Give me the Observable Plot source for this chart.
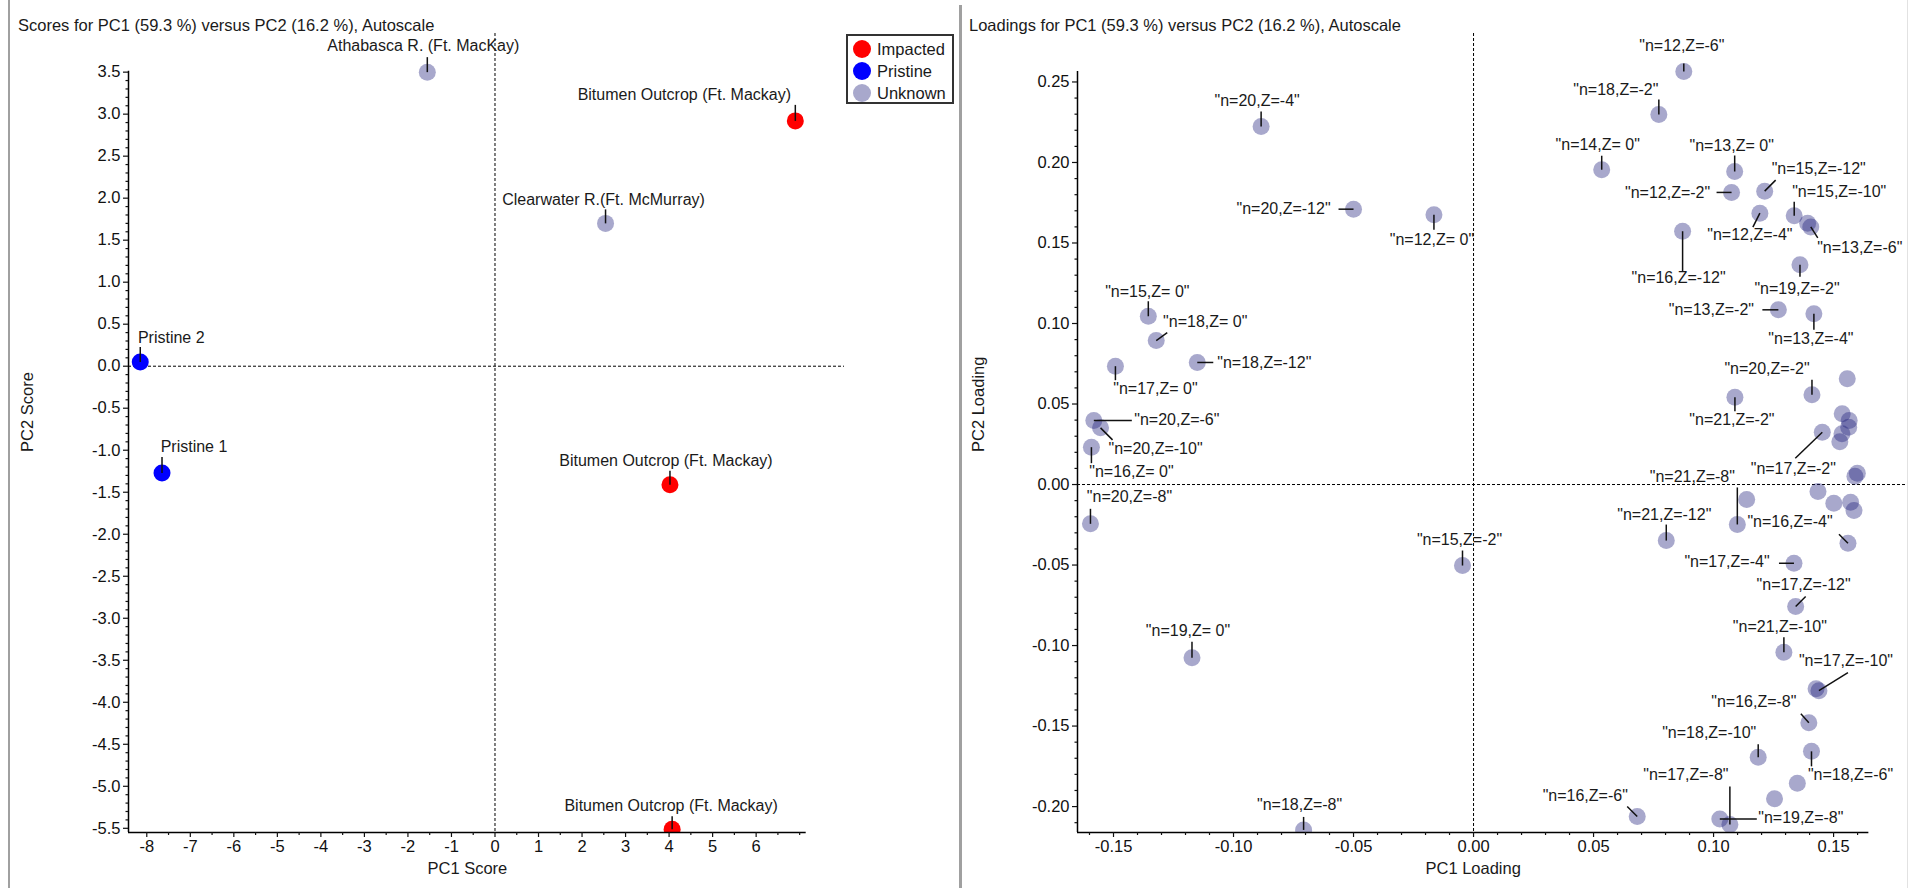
<!DOCTYPE html>
<html><head><meta charset="utf-8">
<script src="https://cdn.jsdelivr.net/npm/d3@7"></script>
<script src="https://cdn.jsdelivr.net/npm/@observablehq/plot@0.6"></script>
<style>
html,body{margin:0;padding:0;background:#fff;}
#wrap{position:relative;width:1916px;height:888px;overflow:hidden;font-family:"Liberation Sans",Arial,sans-serif;color:#1a1a1a;}
.panel{position:absolute;top:0;}
.title{position:absolute;top:15px;font-size:16.5px;line-height:20px;white-space:nowrap;}
.vline{position:absolute;top:0;bottom:0;}
#legend{position:absolute;left:846px;top:34px;width:104px;height:66px;border:2px solid #333;background:#fff;}
.lrow{position:absolute;left:0;height:22px;line-height:22px;font-size:16.5px;white-space:nowrap;}
.lsw{position:absolute;left:5px;top:2px;width:18px;height:18px;border-radius:50%;}
.ltx{position:absolute;left:29px;top:0;}
</style></head><body><div id="wrap"></div>
<script>
// ---------------- DATA ----------------
const classNames = ["Impacted", "Pristine", "Unknown"];

const scoreNames = ["Athabasca R. (Ft. MacKay)", "Bitumen Outcrop (Ft. Mackay)", "Clearwater R.(Ft. McMurray)",
  "Pristine 2", "Pristine 1", "Bitumen Outcrop (Ft. Mackay)", "Bitumen Outcrop (Ft. Mackay)"];
const scoreClasses = ["Unknown", "Impacted", "Unknown", "Pristine", "Pristine", "Impacted", "Impacted"];
const pc1Scores = [-1.555, 6.90, 2.54, -8.15, -7.65, 4.02, 4.07];
const pc2Scores = [3.50, 2.92, 1.70, 0.05, -1.27, -1.41, -5.51];

const loadingNames = [
  "\"n=12,Z=-6\"", "\"n=18,Z=-2\"", "\"n=13,Z= 0\"", "\"n=12,Z=-2\"", "\"n=15,Z=-12\"", "\"n=12,Z=-4\"",
  "\"n=15,Z=-10\"", "\"n=13,Z=-6\"", "\"n=16,Z=-12\"", "\"n=19,Z=-2\"", "\"n=13,Z=-2\"", "\"n=13,Z=-4\"",
  "\"n=20,Z=-2\"", "\"n=21,Z=-2\"", "\"n=17,Z=-2\"", "\"n=21,Z=-8\"", "\"n=21,Z=-12\"", "\"n=16,Z=-4\"",
  "\"n=17,Z=-4\"", "\"n=17,Z=-12\"", "\"n=21,Z=-10\"", "\"n=17,Z=-10\"", "\"n=16,Z=-8\"", "\"n=18,Z=-10\"",
  "\"n=18,Z=-6\"", "\"n=17,Z=-8\"", "\"n=19,Z=-8\"", "\"n=16,Z=-6\"", "\"n=15,Z= 0\"", "\"n=18,Z= 0\"",
  "\"n=17,Z= 0\"", "\"n=18,Z=-12\"", "\"n=20,Z=-6\"", "\"n=20,Z=-10\"", "\"n=16,Z= 0\"", "\"n=20,Z=-8\"",
  "\"n=20,Z=-4\"", "\"n=14,Z= 0\"", "\"n=20,Z=-12\"", "\"n=12,Z= 0\"", "\"n=15,Z=-2\"", "\"n=19,Z= 0\"",
  "\"n=18,Z=-8\"",
  "", "", "", "", "", "", "", "", "", "", "", "", "", "", "", "", ""];
const pc1Loadings = [
  0.0876, 0.0772, 0.1088, 0.1075, 0.1213, 0.1193,
  0.1336, 0.1405, 0.0871, 0.1360, 0.1270, 0.1418,
  0.1410, 0.1089, 0.1453, 0.1099, 0.0803, 0.1560,
  0.1335, 0.1342, 0.1293, 0.1439, 0.1397, 0.1186,
  0.1408, 0.1068, 0.1026, 0.0682, -0.1355, -0.1322,
  -0.1492, -0.1151, -0.1582, -0.1554, -0.1592, -0.1596,
  -0.0885, 0.0534, -0.0500, -0.0165, -0.0046, -0.1173,
  -0.0708,
  0.1392, 0.1557, 0.1536, 0.1565, 0.1563, 0.1535, 0.1526, 0.1599, 0.1589,
  0.1138, 0.1435, 0.1501, 0.1571, 0.1585, 0.1427, 0.1349, 0.1254];
const pc2Loadings = [
  0.2565, 0.2298, 0.1944, 0.1814, 0.1822, 0.1685,
  0.1669, 0.1600, 0.1573, 0.1365, 0.1085, 0.1060,
  0.0557, 0.0542, 0.0325, -0.0248, -0.0348, -0.0365,
  -0.0489, -0.0758, -0.1042, -0.1280, -0.1480, -0.1694,
  -0.1657, -0.2112, -0.2077, -0.2062, 0.1045, 0.0894,
  0.0735, 0.0758, 0.0398, 0.0352, 0.0232, -0.0244,
  0.2224, 0.1955, 0.1710, 0.1675, -0.0503, -0.1076,
  -0.2145,
  0.1622, 0.0657, 0.0439, 0.0398, 0.0356, 0.0315, 0.0265, 0.0070, 0.0052,
  -0.0093, -0.0043, -0.0116, -0.0110, -0.0161, -0.1268, -0.1855, -0.1952];

// tick values
const scoreXMajor = d3.range(-8, 7);
const scoreXMinor = d3.range(-15, 15).filter(i => i % 2 !== 0).map(i => i / 2).concat([7]);
const scoreYMajor = d3.range(-11, 8).map(i => i / 2);
const scoreYMinor = d3.range(-55, 36).filter(i => i % 5 !== 0).map(i => i / 10);
const loadXMajor = d3.range(-3, 4).map(i => i * 5 / 100);
const loadXMinor = d3.range(-16, 17).filter(i => i % 5 !== 0).map(i => i / 100);
const loadYMajor = d3.range(-4, 6).map(i => i * 5 / 100);
const loadYMinor = d3.range(-21, 26).filter(i => i % 5 !== 0).map(i => i / 100);

// ---------------- LAYOUT / STYLE ----------------
const classColors = ["#ff0000", "#0000ff", "#a8a8cc"];
const FONT = "'Liberation Sans', Arial, sans-serif";

// label placement in px: [textCenterDx, textCenterDy, leaderEndDx, leaderEndDy]
const scoreLabelPlace = [
  [-4, -26, 0, -15], [-111, -26, 0, -16], [-2, -24, 0, -14], [31, -24, 0, -15],
  [32, -26, 0, -16], [-4, -24, 0, -14], [-1, -23, 0, -13]];
const loadingLabelPlace = [
  [-2, -26, 0, -8], [-43, -25, 0, -15], [-3, -26, 0, -16], [-64, 0, -15, 0], [54, -22, 11, -11], [-10, 22, -7, 14],
  [45, -24, 0, -14], [49, 21, 7, 11], [-4, 47, 0, 40], [-3, 24, 0, 12], [-67, 0, -16, 0], [-3, 25, 0, 16],
  [-45, -26, 0, -15], [-3, 23, 0, 14], [-29, 37, -27, 26], [-45, -48, 0, -37], [-2, -26, 0, -16], [-58, -21, -9, -9],
  [-67, -1, -15, 0], [8, -22, 10, -10], [-4, -25, 0, -15], [27, -30, 29, -18], [-55, -21, -8, -9], [-49, -24, 0, -13],
  [39, 24, 0, 15], [-44, -50, 0, -38], [81, -1, 37, 0], [-52, -21, -10, -10], [-1, -24, 0, -15], [49, -19, 11, -8],
  [40, 23, 0, 14], [67, 0, 16, 0], [83, -1, 38, 0], [55, 21, 12, 12], [40, 25, 0, 16], [39, -27, 0, -15],
  [-4, -26, 0, -15], [-4, -25, 0, -14], [-70, 0, -15, 0], [-2, 25, 0, 15], [-3, -26, 0, -15], [-4, -27, 0, -16],
  [-4, -25, 0, -13]];

function panel(cfg) {
  const {width, height, m, xDomain, yDomain, xAxisExt, yAxisExt, pts, xMajor, xMinor, yMajor, yMinor,
         xFmt, yFmt, xTitle, yTitle, yTitleDx, dotOpts} = cfg;
  const kx = (xDomain[1] - xDomain[0]) / (width - m.left - m.right);
  const ky = (yDomain[1] - yDomain[0]) / (height - m.top - m.bottom);
  const labeled = pts.filter(p => p.label);
  const dash = {stroke: "#000", strokeWidth: 1, strokeDasharray: "3,2"};
  const axisStyle = {stroke: "#000", strokeWidth: 1.5};
  return Plot.plot({
    width, height,
    marginTop: m.top, marginRight: m.right, marginBottom: m.bottom, marginLeft: m.left,
    x: {domain: xDomain},
    y: {domain: yDomain},
    color: {domain: classNames, range: classColors},
    style: {fontFamily: FONT, fontSize: "16px", background: "transparent", overflow: "visible", color: "#111"},
    marks: [
      Plot.ruleX([0], dash),
      Plot.ruleY([0], dash),
      Plot.dot(pts, {x: "x", y: "y", r: 8.5, clip: true, ...dotOpts}),
      Plot.ruleY([yAxisExt[0]], {x1: xAxisExt[0], x2: xAxisExt[1], ...axisStyle}),
      Plot.ruleX([xAxisExt[0]], {y1: yAxisExt[0], y2: yAxisExt[1], ...axisStyle}),
      Plot.axisX(xMajor, {anchor: "bottom", tickSize: 5, tickPadding: 3, tickFormat: xFmt, fontSize: 16.5, label: null, strokeWidth: 1.2}),
      Plot.axisX(xMinor, {anchor: "bottom", tickSize: 3, tickFormat: () => "", label: null, strokeWidth: 1.2}),
      Plot.axisY(yMajor, {anchor: "left", tickSize: 5, tickPadding: 3, tickFormat: yFmt, fontSize: 16.5, label: null, strokeWidth: 1.2}),
      Plot.axisY(yMinor, {anchor: "left", tickSize: 2.5, tickFormat: () => "", label: null, strokeWidth: 1.2}),
      Plot.link(labeled, {x1: "x", y1: "y", x2: d => d.x + d.place[2] * kx, y2: d => d.y - d.place[3] * ky,
        stroke: "#111", strokeWidth: 1.5}),
      Plot.text(labeled, {x: d => d.x + d.place[0] * kx, y: d => d.y - d.place[1] * ky, text: "label",
        fontSize: 16, fill: "#1a1a1a"}),
      Plot.text([xTitle], {x: () => (xAxisExt[0] + xAxisExt[1]) / 2, frameAnchor: "bottom", dy: 41, text: d => d,
        fontSize: 16.5, fill: "#1a1a1a"}),
      Plot.text([yTitle], {y: () => (yAxisExt[0] + yAxisExt[1]) / 2, frameAnchor: "left", dx: yTitleDx, rotate: -90,
        text: d => d, fontSize: 16.5, fill: "#1a1a1a"})
    ]
  });
}

const scorePts = scoreNames.map((label, i) => ({label, cls: scoreClasses[i], x: pc1Scores[i], y: pc2Scores[i], place: scoreLabelPlace[i]}));
const loadPts = loadingNames.map((label, i) => ({label, x: pc1Loadings[i], y: pc2Loadings[i], place: loadingLabelPlace[i] || [0, 0, 0, 0]}));

const scores = panel({
  width: 960, height: 888, m: {top: 33, right: 116, bottom: 56, left: 128},
  xDomain: [-8.42, 8.03], yDomain: [-5.55, 3.96],
  xAxisExt: [-8.42, 7.15], yAxisExt: [-5.55, 3.51],
  pts: scorePts, xMajor: scoreXMajor, xMinor: scoreXMinor, yMajor: scoreYMajor, yMinor: scoreYMinor,
  xFmt: d => String(d), yFmt: d => d.toFixed(1),
  xTitle: "PC1 Score", yTitle: "PC2 Score", yTitleDx: -100.5,
  dotOpts: {fill: "cls"}
});
const loadings = panel({
  width: 956, height: 888, m: {top: 33, right: 9, bottom: 56, left: 117},
  xDomain: [-0.165, 0.1808], yDomain: [-0.2161, 0.2801],
  xAxisExt: [-0.165, 0.1647], yAxisExt: [-0.2161, 0.2565],
  pts: loadPts, xMajor: loadXMajor, xMinor: loadXMinor, yMajor: loadYMajor, yMinor: loadYMinor,
  xFmt: d => d.toFixed(2), yFmt: d => d.toFixed(2),
  xTitle: "PC1 Loading", yTitle: "PC2 Loading", yTitleDx: -99,
  dotOpts: {fill: "#1a1a78", fillOpacity: 0.38}
});

const wrap = document.getElementById("wrap");
scores.classList.add("panel"); scores.style.left = "0px";
loadings.classList.add("panel"); loadings.style.left = "960px";
wrap.appendChild(scores);
wrap.appendChild(loadings);

function addDiv(cls, css, text) {
  const d = document.createElement("div");
  d.className = cls; d.style.cssText = css;
  if (text) d.textContent = text;
  wrap.appendChild(d);
  return d;
}
addDiv("vline", "left:8px;width:2px;background:#a0a0a0;");
addDiv("vline", "left:959px;top:5px;width:3px;background:#a0a0a0;");
addDiv("vline", "left:1907px;width:1px;background:#e2e2e2;");
addDiv("title", "left:18px;", "Scores for PC1 (59.3 %) versus PC2 (16.2 %), Autoscale");
addDiv("title", "left:969px;", "Loadings for PC1 (59.3 %) versus PC2 (16.2 %), Autoscale");

const legend = addDiv("", "");
legend.id = "legend";
classNames.forEach((c, i) => {
  const row = document.createElement("div");
  row.className = "lrow"; row.style.top = (2 + i * 22) + "px";
  const sw = document.createElement("div");
  sw.className = "lsw"; sw.style.background = classColors[i];
  const tx = document.createElement("div");
  tx.className = "ltx"; tx.textContent = c;
  row.appendChild(sw); row.appendChild(tx);
  legend.appendChild(row);
});
</script></body></html>
